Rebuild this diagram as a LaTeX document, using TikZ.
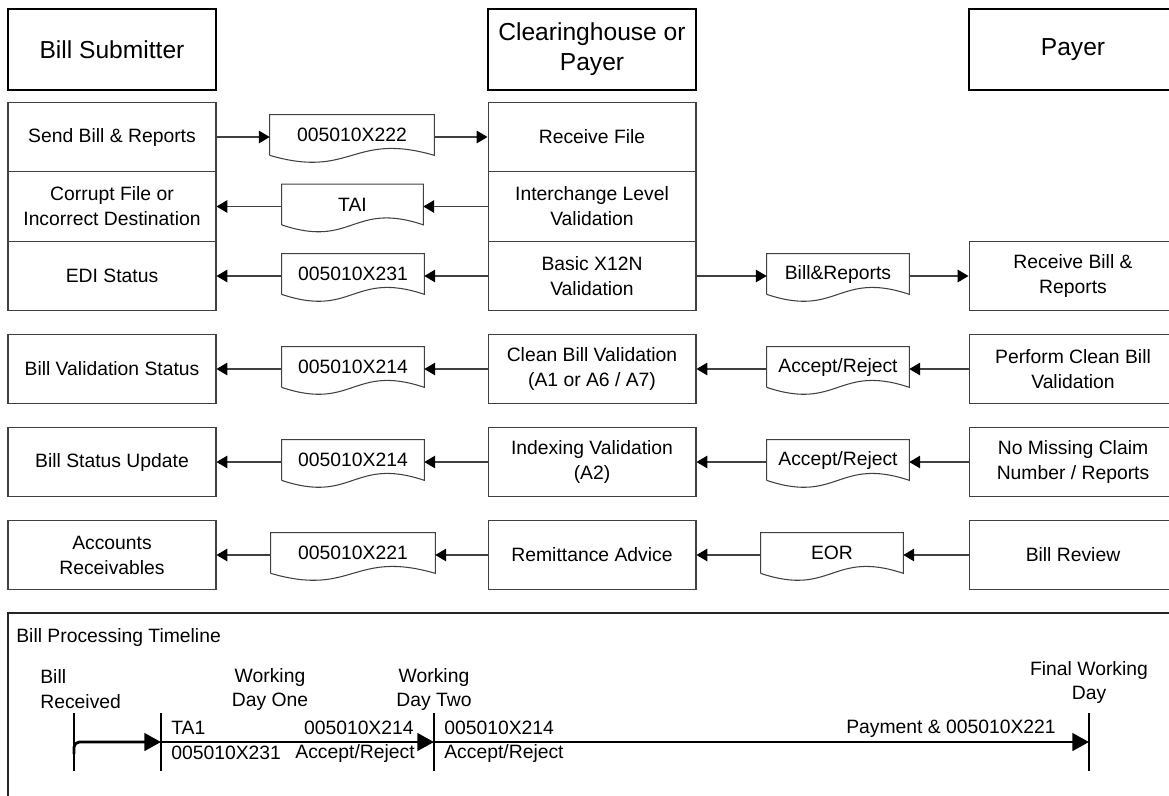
\documentclass[tikz,border=0pt]{standalone}
\usepackage{fontspec}
\setmainfont{Liberation Sans}
\usetikzlibrary{arrows.meta,calc}
\newcommand\mydocframe[1]{\draw[docline] (#1.south west) -- (#1.north west) -- (#1.north east) -- (#1.south east) .. controls ($(#1.south)+(0,-24)$) and ($(#1.south)+(0,24)$) .. (#1.south west);}
\begin{document}
\begin{tikzpicture}[x=0.02cm,y=-0.02cm,
  hdr/.style={draw=black, line width=0.9pt, minimum width=4.16cm, minimum height=1.62cm, inner sep=0pt, align=center, font=\fontsize{14}{17}\selectfont},
  box/.style={draw=black!75, line width=0.6pt, minimum width=4.16cm, minimum height=1.39cm, inner sep=0pt, align=center, font=\fontsize{11}{14.2}\selectfont},
  doc/.style={minimum width=#1, minimum height=0.8cm, inner sep=0pt, align=center, font=\fontsize{11}{14.2}\selectfont},
  docline/.style={draw=black!75, line width=0.6pt},
  arr/.style={draw=black!75, line width=0.6pt, -{Triangle[length=6.2pt,width=7.2pt,fill=black,color=black]}},
  lbl/.style={inner sep=0pt, font=\fontsize{11}{14.2}\selectfont},
  tick/.style={draw=black, line width=1.6pt},
  tlarr/.style={draw=black, line width=1.6pt, -{Triangle[length=9.5pt,width=10pt]}}
]
\useasboundingbox (0,0) rectangle (1169,795);

% headers
\node[hdr] (hbs) at (112,49.5) {Bill Submitter};
\node[hdr] (hch) at (592,49.5) {Clearinghouse or\\Payer};
\node[hdr] (hp)  at (1073,49.5) {Payer};

% left column
\node[box] (l1) at (112,137)   {Send Bill \& Reports};
\node[box] (l2) at (112,206.5) {Corrupt File or\\Incorrect Destination};
\node[box] (l3) at (112,276)   {EDI Status};
\node[box] (l4) at (112,369)   {Bill Validation Status};
\node[box] (l5) at (112,462)   {Bill Status Update};
\node[box] (l6) at (112,555)   {Accounts\\Receivables};

% middle column
\node[box] (m1) at (592,137)   {Receive File};
\node[box] (m2) at (592,206.5) {Interchange Level\\Validation};
\node[box] (m3) at (592,276)   {Basic X12N\\Validation};
\node[box] (m4) at (592,369)   {Clean Bill Validation\\(A1 or A6 / A7)};
\node[box] (m5) at (592,462)   {Indexing Validation\\(A2)};
\node[box] (m6) at (592,555)   {Remittance Advice};

% right column
\node[box] (r3) at (1073,276) {Receive Bill \&\\Reports};
\node[box] (r4) at (1073,369) {Perform Clean Bill\\Validation};
\node[box] (r5) at (1073,462) {No Missing Claim\\Number / Reports};
\node[box] (r6) at (1073,555) {Bill Review};

% documents
\node[doc=3.28cm] (d1) at (352,135)   {005010X222};
\node[doc=2.82cm] (d2) at (352.5,204.5) {TAI};
\node[doc=2.84cm] (d3) at (353,274)   {005010X231};
\node[doc=2.84cm] (d4) at (353,367)   {005010X214};
\node[doc=2.84cm] (d5) at (353,460)   {005010X214};
\node[doc=3.28cm] (d6) at (353,553)   {005010X221};
\node[doc=2.84cm] (e3) at (838,274)   {Bill\&Reports};
\node[doc=2.84cm] (e4) at (838,367)   {Accept/Reject};
\node[doc=2.84cm] (e5) at (838,460)   {Accept/Reject};
\node[doc=2.84cm] (e6) at (832,553)   {EOR};
\mydocframe{d1}\mydocframe{d2}\mydocframe{d3}\mydocframe{d4}\mydocframe{d5}\mydocframe{d6}
\mydocframe{e3}\mydocframe{e4}\mydocframe{e5}\mydocframe{e6}

% connectors
\draw[arr] (l1.east) -- (l1.east -| d1.west);
\draw[arr] (d1.east |- l1.east) -- (m1.west);

\draw[arr] (m2.west) -- (m2.west -| d2.east);
\draw[arr] (d2.west |- m2.west) -- (l2.east);

\draw[arr] (m3.west) -- (m3.west -| d3.east);
\draw[arr] (d3.west |- m3.west) -- (l3.east);
\draw[arr] (m3.east) -- (m3.east -| e3.west);
\draw[arr] (e3.east |- m3.east) -- (r3.west);

\draw[arr] (r4.west) -- (r4.west -| e4.east);
\draw[arr] (e4.west |- r4.west) -- (m4.east);
\draw[arr] (m4.west) -- (m4.west -| d4.east);
\draw[arr] (d4.west |- m4.west) -- (l4.east);

\draw[arr] (r5.west) -- (r5.west -| e5.east);
\draw[arr] (e5.west |- r5.west) -- (m5.east);
\draw[arr] (m5.west) -- (m5.west -| d5.east);
\draw[arr] (d5.west |- m5.west) -- (l5.east);

\draw[arr] (r6.west) -- (r6.west -| e6.east);
\draw[arr] (e6.west |- r6.west) -- (m6.east);
\draw[arr] (m6.west) -- (m6.west -| d6.east);
\draw[arr] (d6.west |- m6.west) -- (l6.east);

% timeline frame
\draw[black!85, line width=0.9pt] (8,810) -- (8,613) -- (1185,613);
\node[lbl, anchor=west] (ttl) at (16,637) {Bill Processing Timeline};

\coordinate (t0) at (74,742);
\coordinate (t1) at (161,742);
\coordinate (t2) at (434,742);
\coordinate (t3) at (1089,742);
\foreach \t in {t0,t1,t2,t3} {\draw[tick] ($(\t)+(0,-29)$) -- ($(\t)+(0,29)$);}
\draw[tlarr, rounded corners=3pt] ($(t0)+(0,12)$) |- (t1);
\draw[tlarr] (t1) -- (t2);
\draw[tlarr] (t2) -- (t3);

\node[lbl, align=left, anchor=west] (lb0) at (40,689.5) {Bill\\Received};
\node[lbl, align=center] (lb1) at (270,689.5) {Working\\Day One};
\node[lbl, align=center] (lb2) at (434,689.5) {Working\\Day Two};
\node[lbl, align=center] (lb3) at (1089,682.5) {Final Working\\Day};

\node[lbl, anchor=west] (a1) at (171,728) {TA1};
\node[lbl, anchor=west] (a2) at (171,753) {005010X231};
\node[lbl, anchor=east] (a3) at (414,728) {005010X214};
\node[lbl, anchor=east] (a4) at (415,753) {Accept/Reject};
\node[lbl, anchor=west] (a5) at (444,728) {005010X214};
\node[lbl, anchor=west] (a6) at (444,753) {Accept/Reject};
\node[lbl] (a7) at (951,729) {Payment \& 005010X221};
\end{tikzpicture}
\end{document}
